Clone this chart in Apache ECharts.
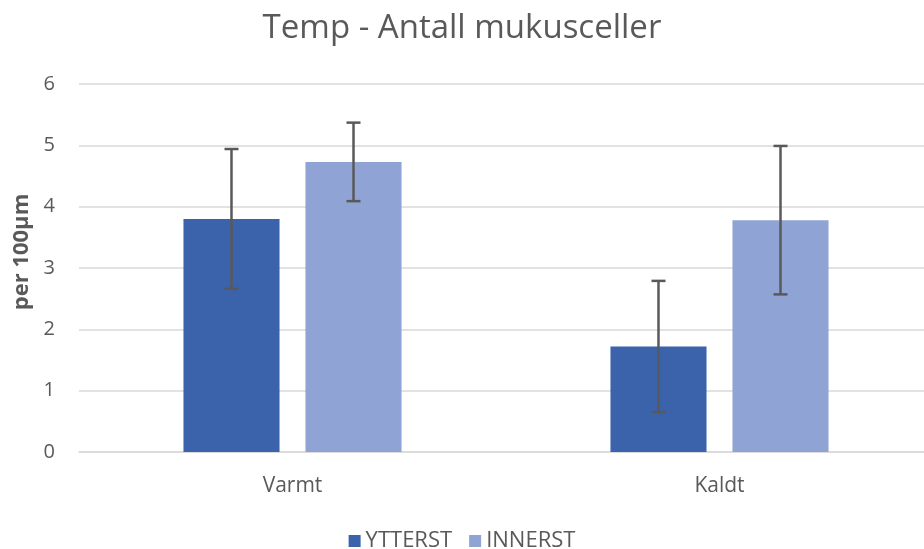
<!DOCTYPE html>
<html>
<head>
<meta charset="utf-8">
<script src="https://cdn.jsdelivr.net/npm/echarts@6/dist/echarts.min.js"></script>
<style>
  html, body { margin: 0; padding: 0; background: #fff; }
  #main { width: 924px; height: 549px; }
</style>
</head>
<body>
<div id="main"></div>
<script>
'use strict';

var categories = ['Varmt', 'Kaldt'];
var seriesNames = ['YTTERST', 'INNERST'];
var ytterst = [3.80, 1.72];
var innerst = [4.73, 3.78];
// standard deviation, read from the whiskers
var ytterstErr = [1.14, 1.07];
var innerstErr = [0.64, 1.21];
var yTicks = [0, 1, 2, 3, 4, 5, 6];

var barPct = 0.225;
var gapPct = 0.27;

function errData(values, errs) {
    return values.map(function(v, i) {
        return [i, v - errs[i], v + errs[i]];
    });
}

function errRender(side) {
    return function(params, api) {
        var idx = api.value(0);
        var lo = api.coord([idx, api.value(1)]);
        var hi = api.coord([idx, api.value(2)]);
        var catW = api.size([1, 0])[0];
        var bw = catW * barPct;
        var x = lo[0] + side * (bw + bw * gapPct) / 2;
        var cap = 7;
        var style = { stroke: '#595959', lineWidth: 2.5 };
        return {
            type: 'group',
            children: [
                { type: 'line', shape: { x1: x, y1: hi[1], x2: x, y2: lo[1] }, style: style },
                { type: 'line', shape: { x1: x - cap, y1: hi[1], x2: x + cap, y2: hi[1] }, style: style },
                { type: 'line', shape: { x1: x - cap, y1: lo[1], x2: x + cap, y2: lo[1] }, style: style }
            ]
        };
    };
}

var myChart = echarts.init(document.getElementById('main'));
var option = {
    animation: false,
    textStyle: { fontFamily: 'Open Sans' },
    title: {
        text: 'Temp - Antall mukusceller',
        left: 'center',
        top: 7,
        textStyle: { fontSize: 33, fontWeight: 'normal', color: '#595959', fontFamily: 'Open Sans' }
    },
    legend: {
        data: seriesNames,
        top: 525,
        left: 'center',
        icon: 'rect',
        itemWidth: 12,
        itemHeight: 12,
        itemGap: 17,
        textStyle: { fontSize: 22, color: '#595959' }
    },
    // plot runs past the right edge, like the cropped original
    grid: { left: 79, width: 854, top: 84, bottom: 97, outerBoundsMode: 'none' },
    xAxis: {
        type: 'category',
        data: categories,
        axisTick: { show: false },
        axisLine: { lineStyle: { color: '#d9d9d9', width: 1.5 } },
        axisLabel: { fontSize: 21, color: '#595959', margin: 24 }
    },
    yAxis: {
        type: 'value',
        min: yTicks[0],
        max: yTicks[yTicks.length - 1],
        interval: 1,
        name: 'per 100µm',
        nameLocation: 'middle',
        nameGap: 40,
        nameTextStyle: { fontSize: 22, fontWeight: 'bold', color: '#595959', padding: [0, 0, 0, 32] },
        axisLabel: { fontSize: 20, color: '#595959', margin: 24 },
        splitLine: { lineStyle: { color: '#d9d9d9', width: 1.5 } }
    },
    series: [{
        name: seriesNames[0],
        type: 'bar',
        data: ytterst,
        barWidth: (barPct * 100) + '%',
        barGap: (gapPct * 100) + '%',
        itemStyle: { color: '#3A63AC' }
    }, {
        name: seriesNames[1],
        type: 'bar',
        data: innerst,
        barWidth: (barPct * 100) + '%',
        itemStyle: { color: '#8FA4D5' }
    }, {
        type: 'custom',
        renderItem: errRender(-1),
        data: errData(ytterst, ytterstErr),
        encode: { x: 0, y: [1, 2] },
        z: 10,
        silent: true
    }, {
        type: 'custom',
        renderItem: errRender(1),
        data: errData(innerst, innerstErr),
        encode: { x: 0, y: [1, 2] },
        z: 10,
        silent: true
    }]
};
myChart.setOption(option);
</script>
</body>
</html>
